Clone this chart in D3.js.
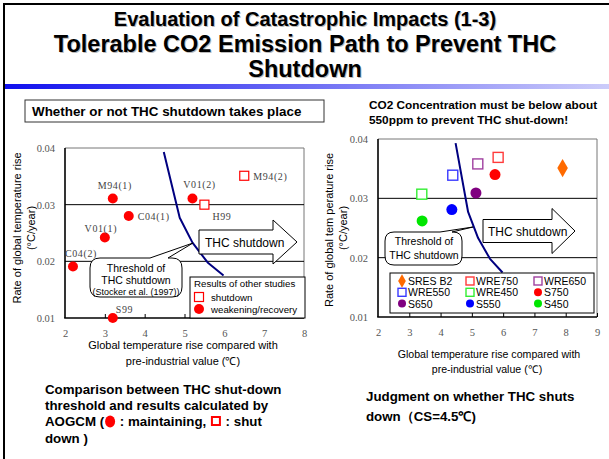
<!DOCTYPE html>
<html>
<head>
<meta charset="utf-8">
<script src="https://cdn.jsdelivr.net/npm/d3@7"></script>
<style>
body { margin: 0; background: #fff; }
svg { display: block; font-family: "Liberation Sans", Arial, sans-serif; }
</style>
</head>
<body>
<script>
// ---- data ----
var tickY = [0.01, 0.02, 0.03, 0.04];
var leftTicksX = [2, 3, 4, 5, 6, 7, 8];
var rightTicksX = [2, 3, 4, 5, 6, 7, 8, 9];

// threshold of THC shutdown (Stocker et al. 1997)
var thresholdX = [4.48, 4.88, 5.2, 5.58, 5.98];
var thresholdY = [0.0393, 0.0277, 0.0233, 0.0198, 0.0175];

// AOGCM studies (left chart)
var studyNames = ["M94(1)", "V01(2)", "C04(1)", "V01(1)", "C04(2)", "S99", "H99", "M94(2)"];
var studyX = [3.2, 5.2, 3.6, 3.0, 2.2, 3.2, 5.5, 6.5];
var studyY = [0.0311, 0.0311, 0.028, 0.0242, 0.0191, 0.010, 0.030, 0.0351];
var studyResult = ["weak", "weak", "weak", "weak", "weak", "weak", "shut", "shut"];

// scenarios (right chart)
var scenNames = ["SRES B2", "WRE750", "WRE650", "WRE550", "WRE450", "S750", "S650", "S550", "S450"];
var scenX = [7.9, 5.84, 5.19, 4.39, 3.40, 5.74, 5.13, 4.36, 3.41];
var scenY = [0.0351, 0.0369, 0.0358, 0.0339, 0.0307, 0.0340, 0.0309, 0.0281, 0.0262];
var scenShape = ["diamond", "square", "square", "square", "square", "circle", "circle", "circle", "circle"];

// styles / label placement
var scenColor = ["#ff6a00", "#ff3a3a", "#a040a0", "#3a3aff", "#33ee33", "#ff0000", "#800080", "#0000ff", "#00e600"];
var labelPos = [[2, -9, "middle"], [7, -10, "middle"], [9, 4, "start"], [-4, -6, "middle"],
                [8, -9, "middle"], [3, -5, "start"], [8, 15, "start"], [9, 4, "start"]];

var w = 609, h = 459;
var svg = d3.select("body").append("svg").attr("width", w).attr("height", h);

// slide frame and title
svg.append("line").attr("x1", 3).attr("x2", w).attr("y1", 4).attr("y2", 4)
   .attr("stroke", "#000").attr("stroke-width", 2);
svg.append("line").attr("x1", 4).attr("x2", 4).attr("y1", 3).attr("y2", h)
   .attr("stroke", "#000").attr("stroke-width", 2);

var grad = svg.append("defs").append("linearGradient").attr("id", "bar");
grad.append("stop").attr("offset", "0%").attr("stop-color", "#1010ee");
grad.append("stop").attr("offset", "100%").attr("stop-color", "#ccccfa");
svg.append("rect").attr("x", 5).attr("y", 84).attr("width", w - 5).attr("height", 5)
   .attr("fill", "url(#bar)");

var titles = [["Evaluation of Catastrophic Impacts (1-3)", 26, 20],
              ["Tolerable CO2 Emission Path to Prevent THC", 52, 23.5],
              ["Shutdown", 77, 23.5]];
titles.forEach(function(t) {
  svg.append("text").attr("x", 306).attr("y", t[1] + 1).attr("text-anchor", "middle")
     .attr("font-weight", "bold").attr("font-size", t[2]).attr("fill", "#bbb").text(t[0]);
  svg.append("text").attr("x", 305).attr("y", t[1]).attr("text-anchor", "middle")
     .attr("font-weight", "bold").attr("font-size", t[2]).attr("fill", "#000").text(t[0]);
});

// helpers
function blockArrow(x0, xh, x1, yc, bh, hh) {
  return "M" + x0 + "," + (yc - bh / 2) + "L" + xh + "," + (yc - bh / 2) + "L" + xh + "," + (yc - hh / 2) +
         "L" + x1 + "," + yc + "L" + xh + "," + (yc + hh / 2) + "L" + xh + "," + (yc + bh / 2) +
         "L" + x0 + "," + (yc + bh / 2) + "Z";
}
function callout(x, y, cw, ch, r, t1, t2, tx, ty) {
  return "M" + (x + r) + "," + y + "L" + t1 + "," + y + "L" + tx + "," + ty + "L" + t2 + "," + y +
         "L" + (x + cw - r) + "," + y + "Q" + (x + cw) + "," + y + " " + (x + cw) + "," + (y + r) +
         "L" + (x + cw) + "," + (y + ch - r) + "Q" + (x + cw) + "," + (y + ch) + " " + (x + cw - r) + "," + (y + ch) +
         "L" + (x + r) + "," + (y + ch) + "Q" + x + "," + (y + ch) + " " + x + "," + (y + ch - r) +
         "L" + x + "," + (y + r) + "Q" + x + "," + y + " " + (x + r) + "," + y + "Z";
}

function drawFrame(x, y) {
  var x0 = x.range()[0], x1 = x.range()[1], y0 = y.range()[0], y1 = y.range()[1];
  svg.append("line").attr("x1", x0).attr("x2", x1).attr("y1", y1).attr("y2", y1).attr("stroke", "#777");
  svg.append("line").attr("x1", x1).attr("x2", x1).attr("y1", y1).attr("y2", y0).attr("stroke", "#777");
  svg.selectAll(null).data([0.02, 0.03]).enter().append("line")
     .attr("x1", x0).attr("x2", x1).attr("y1", y).attr("y2", y).attr("stroke", "#000");
  svg.append("line").attr("x1", x0).attr("x2", x0).attr("y1", y1).attr("y2", y0)
     .attr("stroke", "#000").attr("stroke-width", 1.6);
  svg.append("line").attr("x1", x0 - 0.8).attr("x2", x1).attr("y1", y0).attr("y2", y0)
     .attr("stroke", "#000").attr("stroke-width", 1.6);
}

function drawAxes(x, y, ticksX) {
  var gy = svg.append("g").attr("transform", "translate(" + x.range()[0] + ",0)")
    .call(d3.axisLeft(y).tickValues(tickY).tickSize(0).tickPadding(10).tickFormat(d3.format(".2f")));
  var gx = svg.append("g").attr("transform", "translate(0," + y.range()[0] + ")")
    .call(d3.axisBottom(x).tickValues(ticksX).tickSize(-4).tickPadding(12).tickFormat(d3.format("d")));
  [gx, gy].forEach(function(g) {
    g.select(".domain").remove();
    g.selectAll("text").attr("font-family", "'Liberation Serif', serif").attr("font-size", 10.5).attr("fill", "#555");
    g.selectAll("line").attr("stroke", "#000");
  });
  gx.selectAll(".tick").filter(function(d) { return d === ticksX[0]; }).select("line").remove();
}

function drawThreshold(x, y) {
  var pts = thresholdX.map(function(v, i) { return [x(v), y(thresholdY[i])]; });
  svg.append("path").attr("d", d3.line()(pts))
     .attr("fill", "none").attr("stroke", "#000080").attr("stroke-width", 2).attr("stroke-linejoin", "round");
}

// ================= left chart =================
var xL = d3.scaleLinear().domain([2, 8]).range([65, 304]);
var yL = d3.scaleLinear().domain([0.01, 0.04]).range([318, 148]);

svg.append("rect").attr("x", 25).attr("y", 100).attr("width", 299).attr("height", 22)
   .attr("fill", "#fff").attr("stroke", "#333");
svg.append("text").attr("x", 32).attr("y", 116).attr("font-weight", "bold").attr("font-size", 13.4)
   .text("Whether or not THC shutdown takes place");

drawFrame(xL, yL);
drawAxes(xL, yL, leftTicksX);
drawThreshold(xL, yL);

svg.append("path").attr("d", blockArrow(199, 273, 297, 242, 24, 44))
   .attr("fill", "#fff").attr("stroke", "#000");
svg.append("text").attr("x", 205).attr("y", 247).attr("font-size", 12).text("THC shutdown");

svg.append("path").attr("d", callout(90, 258, 92, 39, 10, 150, 168, 193, 243))
   .attr("fill", "#fff").attr("stroke", "#000");
svg.append("text").attr("x", 136).attr("y", 272).attr("text-anchor", "middle").attr("font-size", 10.5).text("Threshold of");
svg.append("text").attr("x", 136).attr("y", 284).attr("text-anchor", "middle").attr("font-size", 10.5).text("THC shutdown");
svg.append("text").attr("x", 136).attr("y", 295).attr("text-anchor", "middle").attr("font-size", 9).text("(Stocker et al. (1997))");

// legend of other studies
svg.append("rect").attr("x", 190).attr("y", 277).attr("width", 115).attr("height", 41)
   .attr("fill", "#fff").attr("stroke", "#000");
svg.append("text").attr("x", 194).attr("y", 287).attr("font-size", 9.7).text("Results of other studies");
svg.append("rect").attr("x", 194.5).attr("y", 292.5).attr("width", 9).attr("height", 9)
   .attr("fill", "#fff").attr("stroke", "#f00").attr("stroke-width", 1.2);
svg.append("text").attr("x", 211).attr("y", 301).attr("font-size", 9.7).text("shutdown");
svg.append("circle").attr("cx", 199).attr("cy", 309).attr("r", 5).attr("fill", "#f00");
svg.append("text").attr("x", 211).attr("y", 313).attr("font-size", 9.7).text("weakening/recovery");

// study points
studyNames.forEach(function(name, i) {
  var px = xL(studyX[i]), py = yL(studyY[i]);
  if (studyResult[i] === "shut") {
    svg.append("rect").attr("x", px - 4.5).attr("y", py - 4.5).attr("width", 9).attr("height", 9)
       .attr("fill", "#fff").attr("stroke", "#f00").attr("stroke-width", 1.2);
  } else {
    svg.append("circle").attr("cx", px).attr("cy", py).attr("r", 5).attr("fill", "#f00");
  }
  svg.append("text").attr("x", px + labelPos[i][0]).attr("y", py + labelPos[i][1])
     .attr("text-anchor", labelPos[i][2]).attr("font-family", "'Liberation Serif', serif")
     .attr("font-size", 10).attr("letter-spacing", 0.6).attr("fill", "#444").text(name);
});

svg.append("text").attr("transform", "translate(21,228) rotate(-90)").attr("text-anchor", "middle")
   .attr("font-size", 11).text("Rate of global temperature rise");
svg.append("text").attr("transform", "translate(35,228) rotate(-90)").attr("text-anchor", "middle")
   .attr("font-size", 11).text("(°C/year)");
svg.append("text").attr("x", 183).attr("y", 349).attr("text-anchor", "middle").attr("font-size", 11)
   .text("Global temperature rise compared with");
svg.append("text").attr("x", 183).attr("y", 365).attr("text-anchor", "middle").attr("font-size", 11)
   .text("pre-industrial value  (℃)");

// ================= right chart =================
var xR = d3.scaleLinear().domain([2, 9]).range([378, 597]);
var yR = d3.scaleLinear().domain([0.01, 0.04]).range([317, 139]);

svg.append("text").attr("x", 369).attr("y", 109).attr("font-weight", "bold").attr("font-size", 11.8)
   .text("CO2 Concentration must be below about");
svg.append("text").attr("x", 369).attr("y", 124).attr("font-weight", "bold").attr("font-size", 11.8)
   .text("550ppm to prevent THC shut-down!");

drawFrame(xR, yR);
drawAxes(xR, yR, rightTicksX);
drawThreshold(xR, yR);

svg.append("path").attr("d", blockArrow(483, 552, 575, 231, 23, 45))
   .attr("fill", "#fff").attr("stroke", "#000");
svg.append("text").attr("x", 488).attr("y", 236).attr("font-size", 12).text("THC shutdown");

svg.append("path").attr("d", callout(385, 232, 77, 33, 9, 440, 452, 473, 227))
   .attr("fill", "#fff").attr("stroke", "#000");
svg.append("text").attr("x", 424).attr("y", 245).attr("text-anchor", "middle").attr("font-size", 10.5).text("Threshold of");
svg.append("text").attr("x", 424).attr("y", 259).attr("text-anchor", "middle").attr("font-size", 10.5).text("THC shutdown");

// scenario legend
svg.append("rect").attr("x", 390).attr("y", 273).attr("width", 204).attr("height", 40)
   .attr("fill", "#fff").attr("stroke", "#000");

function marker(g, shape, color, px, py, s) {
  if (shape === "circle") {
    g.append("circle").attr("cx", px).attr("cy", py).attr("r", s / 2).attr("fill", color);
  } else if (shape === "square") {
    g.append("rect").attr("x", px - s / 2).attr("y", py - s / 2).attr("width", s).attr("height", s)
     .attr("fill", "#fff").attr("stroke", color).attr("stroke-width", 1.4);
  } else {
    g.append("path").attr("transform", "translate(" + px + "," + py + ")")
     .attr("d", d3.symbol().type(d3.symbolDiamond).size(s * s * 0.8)()).attr("fill", color);
  }
}

scenNames.forEach(function(name, i) {
  var col = i % 3, row = Math.floor(i / 3);
  var lx = 402 + col * 68, ly = 281 + row * 11.3;
  marker(svg, scenShape[i], scenColor[i], lx, ly, 8);
  svg.append("text").attr("x", lx + 6).attr("y", ly + 4).attr("font-size", 10.5).text(name);
});

scenNames.forEach(function(name, i) {
  marker(svg, scenShape[i], scenColor[i], xR(scenX[i]), yR(scenY[i]), scenShape[i] === "square" ? 10 : 11);
});

svg.append("text").attr("transform", "translate(333,230) rotate(-90)").attr("text-anchor", "middle")
   .attr("font-size", 11).text("Rate of global tem perature rise");
svg.append("text").attr("transform", "translate(347,228) rotate(-90)").attr("text-anchor", "middle")
   .attr("font-size", 11).text("(°C/year)");
svg.append("text").attr("x", 489).attr("y", 358).attr("text-anchor", "middle").attr("font-size", 10.6)
   .text("Global temperature rise compared with");
svg.append("text").attr("x", 487).attr("y", 373).attr("text-anchor", "middle").attr("font-size", 10.6)
   .text("pre-industrial value  (℃)");

// ================= captions =================
function caption(x, y, s) {
  return svg.append("text").attr("x", x).attr("y", y).attr("font-weight", "bold").attr("font-size", 13.3)
            .style("white-space", "pre").text(s);
}
caption(45, 394, "Comparison between THC shut-down");
caption(45, 410, "threshold and results calculated by");
// third line: text pieces with drawn symbols between them
var cx = 45;
var t1 = caption(cx, 426, "AOGCM (");
cx += t1.node().getComputedTextLength() + 1;
svg.append("ellipse").attr("cx", cx + 5).attr("cy", 421.5).attr("rx", 5).attr("ry", 6).attr("fill", "#f00");
cx += 11;
var t2 = caption(cx, 426, " : maintaining, ");
cx += t2.node().getComputedTextLength() + 1;
svg.append("rect").attr("x", cx + 1).attr("y", 417).attr("width", 8).attr("height", 8)
   .attr("fill", "#fff").attr("stroke", "#f00").attr("stroke-width", 2);
cx += 11;
caption(cx, 426, " : shut");
caption(45, 443, "down )");

caption(366, 401, "Judgment on whether THC shuts");
caption(366, 421, "down（CS=4.5℃)");
</script>
</body>
</html>
